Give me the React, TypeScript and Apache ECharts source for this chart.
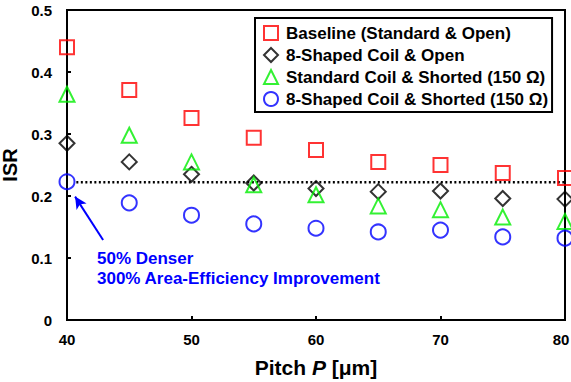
import React, { useEffect, useRef } from "react";
import * as echarts from "echarts";

const pitch = [40, 45, 50, 55, 60, 65, 70, 75, 80];
const baseline = [0.44, 0.371, 0.326, 0.294, 0.274, 0.255, 0.25, 0.237, 0.229];
const shapedOpen = [0.285, 0.255, 0.235, 0.221, 0.212, 0.207, 0.208, 0.196, 0.195];
const stdShorted = [0.364, 0.298, 0.255, 0.218, 0.202, 0.184, 0.178, 0.166, 0.159];
const shapedShorted = [0.223, 0.189, 0.169, 0.155, 0.148, 0.142, 0.145, 0.134, 0.132];
const seriesNames = [
  "Baseline (Standard & Open)",
  "8-Shaped Coil & Open",
  "Standard Coil & Shorted (150 Ω)",
  "8-Shaped Coil & Shorted (150 Ω)",
];
const refLevel = 0.222;
const refRange = [40.75, 80];
const arrowFrom = [42.9, 0.129];
const arrowTo = [40.65, 0.199];
const noteLines = ["50% Denser", "300% Area-Efficiency Improvement"];

const FONT = "Liberation Sans, Arial, sans-serif";

export default function App() {
  const ref = useRef<HTMLDivElement>(null);
  useEffect(() => {
    const chart = echarts.init(ref.current!, null, { renderer: "svg" });
    const mk = (name: string, vals: number[], symbol: string, color: string, size: number) => ({
      name,
      type: "scatter",
      data: pitch.map((p, i) => [p, vals[i]]),
      symbol,
      symbolSize: size,
      clip: false,
      itemStyle: { color: "rgba(0,0,0,0)", borderColor: color, borderWidth: 2 },
      emphasis: { disabled: true },
      z: 3,
    });
    const circle: any = mk(seriesNames[3], shapedShorted, "circle", "#0000ff", 15);
    circle.markLine = {
      silent: true,
      symbol: ["none", "arrow"],
      symbolSize: [9, 12],
      lineStyle: { color: "#0000ff", width: 2, type: "solid" },
      label: { show: false },
      data: [[{ coord: arrowFrom }, { coord: arrowTo }]],
    };
    const lblStyle = { color: "#000", fontFamily: FONT, fontWeight: "bold", fontSize: 15 };
    chart.setOption({
      animation: false,
      backgroundColor: "#fff",
      grid: {
        left: 67,
        right: 6,
        top: 10,
        bottom: 62,
        containLabel: false,
        outerBoundsMode: "none",
        show: true,
        borderColor: "#000",
        borderWidth: 2,
        backgroundColor: "transparent",
      },
      legend: {
        orient: "vertical",
        left: 255,
        top: 18,
        padding: [6, 4, 4, 8],
        itemGap: 4,
        itemWidth: 14,
        itemHeight: 14,
        borderColor: "#000",
        borderWidth: 2,
        backgroundColor: "#fff",
        selectedMode: false,
        data: seriesNames,
        textStyle: {
          fontFamily: FONT,
          fontWeight: "bold",
          fontSize: 17,
          lineHeight: 18,
          color: "#000",
          padding: [0, 0, 0, 3],
        },
      },
      xAxis: {
        type: "value",
        min: 40,
        max: 80,
        interval: 10,
        axisLine: { show: true, lineStyle: { color: "#000", width: 2 } },
        axisTick: { show: true, inside: true, length: 4, lineStyle: { color: "#000", width: 2 } },
        splitLine: { show: false },
        axisLabel: {
          ...lblStyle,
          margin: 12,
          formatter: (v: number) => (v === 80 ? `{e|${v}}` : `{n|${v}}`),
          rich: {
            n: { ...lblStyle },
            e: { ...lblStyle, padding: [0, 8, 0, 0] },
          },
        },
        name: "{a|Pitch }{b|P}{a| [μm]}",
        nameLocation: "middle",
        nameGap: 37,
        nameTextStyle: {
          rich: {
            a: { fontFamily: FONT, fontWeight: "bold", fontSize: 21, color: "#000" },
            b: { fontFamily: FONT, fontWeight: "bold", fontStyle: "italic", fontSize: 21, color: "#000" },
          },
        },
      },
      yAxis: {
        type: "value",
        min: 0,
        max: 0.5,
        interval: 0.1,
        axisLine: { show: true, lineStyle: { color: "#000", width: 2 } },
        axisTick: { show: true, inside: true, length: 4, lineStyle: { color: "#000", width: 2 } },
        splitLine: { show: false },
        axisLabel: { ...lblStyle, margin: 15 },
        name: "ISR",
        nameLocation: "middle",
        nameGap: 40,
        nameRotate: 90,
        nameTextStyle: { fontFamily: FONT, fontWeight: "bold", fontSize: 20, color: "#000" },
      },
      graphic: [
        {
          type: "text",
          left: 97,
          top: 248,
          style: {
            text: noteLines.join("\n"),
            fill: "#0000ff",
            font: `bold 17px ${FONT}`,
            lineHeight: 20,
          },
          z: 10,
        },
      ],
      series: [
        {
          name: "ref",
          type: "line",
          data: [
            [refRange[0], refLevel],
            [refRange[1], refLevel],
          ],
          symbol: "none",
          lineStyle: { color: "#000", width: 2.5, type: [2, 2.5] },
          silent: true,
          z: 1,
        },
        mk(seriesNames[0], baseline, "rect", "#ff0000", 14),
        mk(seriesNames[1], shapedOpen, "diamond", "#000000", 15),
        mk(seriesNames[2], stdShorted, "triangle", "#00ee00", 15),
        circle,
      ],
    });
    return () => chart.dispose();
  }, []);
  return <div ref={ref} style={{ width: 571, height: 382, position: "absolute", left: 0, top: 0 }} />;
}
